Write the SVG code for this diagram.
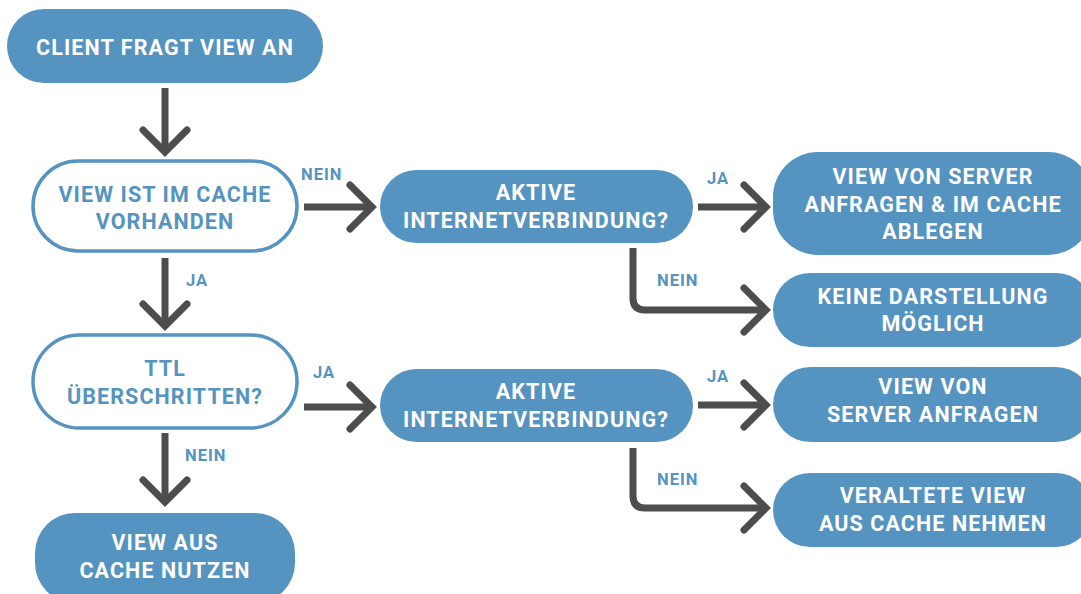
<svg xmlns="http://www.w3.org/2000/svg" width="1081" height="594" viewBox="0 0 1081 594">
  <style>
    .fill { fill: #5593c0; }
    .outline { fill: #ffffff; stroke: #5593c0; stroke-width: 3.5; }
    .t { font-family: Roboto, "Liberation Sans", sans-serif; font-weight: 700; font-size: 21.5px; letter-spacing: 1.1px; text-anchor: middle; }
    .tw { fill: #ffffff; }
    .tb { fill: #5593c0; }
    .lbl { font-family: Roboto, "Liberation Sans", sans-serif; font-weight: 700; font-size: 16.5px; letter-spacing: 1px; fill: #5593c0; }
    .con { fill: none; stroke: #4d4d4d; stroke-width: 7; marker-end: url(#chev); }
  </style>
  <defs>
    <marker id="chev" markerUnits="userSpaceOnUse" viewBox="-40 -40 60 80" markerWidth="60" markerHeight="80" refX="0" refY="0" orient="auto" overflow="visible">
      <path d="M-22,-22 L0,0 L-22,22" fill="none" stroke="#4d4d4d" stroke-width="7" stroke-linecap="round" stroke-linejoin="miter"/>
    </marker>
  </defs>

  <rect width="1081" height="594" fill="#ffffff"/>

  <!-- connectors -->
  <g id="connectors">
    <path class="con" d="M165,88 V152"/>
    <path class="con" d="M304,207 H372"/>
    <path class="con" d="M698,207 H766"/>
    <path class="con" d="M633,248 V298 Q633,310 645,310 H766"/>
    <path class="con" d="M165,258 V326"/>
    <path class="con" d="M304,407 H372"/>
    <path class="con" d="M698,405 H766"/>
    <path class="con" d="M633,448 V496 Q633,508 645,508 H766"/>
    <path class="con" d="M165,433 V502"/>
    <text class="lbl" x="301" y="180">NEIN</text>
    <text class="lbl" x="707" y="184">JA</text>
    <text class="lbl" x="657" y="286">NEIN</text>
    <text class="lbl" x="186" y="286">JA</text>
    <text class="lbl" x="313" y="378">JA</text>
    <text class="lbl" x="707" y="382">JA</text>
    <text class="lbl" x="657" y="485">NEIN</text>
    <text class="lbl" x="185" y="461">NEIN</text>
  </g>

  <g id="client-request">
    <rect class="fill" x="7" y="9" width="316" height="74" rx="37"/>
    <text class="t tw" x="165" y="55">CLIENT FRAGT VIEW AN</text>
  </g>

  <g id="in-cache">
    <rect class="outline" x="33" y="161" width="264" height="90" rx="45"/>
    <text class="t tb" x="165" y="202">VIEW IST IM CACHE</text>
    <text class="t tb" x="165" y="229">VORHANDEN</text>
  </g>

  <g id="online-1">
    <rect class="fill" x="380" y="170" width="313" height="73" rx="36.5"/>
    <text class="t tw" x="536" y="200">AKTIVE</text>
    <text class="t tw" x="536" y="228">INTERNETVERBINDUNG?</text>
  </g>

  <g id="fetch-and-store">
    <rect class="fill" x="773" y="152" width="320" height="103" rx="45"/>
    <text class="t tw" x="933" y="184">VIEW VON SERVER</text>
    <text class="t tw" x="933" y="212">ANFRAGEN &amp; IM CACHE</text>
    <text class="t tw" x="933" y="239">ABLEGEN</text>
  </g>

  <g id="no-display">
    <rect class="fill" x="773" y="273" width="320" height="74" rx="37"/>
    <text class="t tw" x="933" y="304">KEINE DARSTELLUNG</text>
    <text class="t tw" x="933" y="331">MÖGLICH</text>
  </g>

  <g id="ttl-exceeded">
    <rect class="outline" x="33" y="335" width="264" height="93" rx="46.5"/>
    <text class="t tb" x="165" y="376">TTL</text>
    <text class="t tb" x="165" y="404">ÜBERSCHRITTEN?</text>
  </g>

  <g id="online-2">
    <rect class="fill" x="380" y="369" width="313" height="73" rx="36.5"/>
    <text class="t tw" x="536" y="399">AKTIVE</text>
    <text class="t tw" x="536" y="427">INTERNETVERBINDUNG?</text>
  </g>

  <g id="fetch">
    <rect class="fill" x="773" y="367" width="320" height="75" rx="37.5"/>
    <text class="t tw" x="933" y="394">VIEW VON</text>
    <text class="t tw" x="933" y="422">SERVER ANFRAGEN</text>
  </g>

  <g id="stale-view">
    <rect class="fill" x="773" y="473" width="320" height="74" rx="37"/>
    <text class="t tw" x="933" y="503">VERALTETE VIEW</text>
    <text class="t tw" x="933" y="531">AUS CACHE NEHMEN</text>
  </g>

  <g id="use-cache">
    <rect class="fill" x="35" y="513" width="260" height="90" rx="40"/>
    <text class="t tw" x="165" y="550">VIEW AUS</text>
    <text class="t tw" x="165" y="578">CACHE NUTZEN</text>
  </g>
</svg>
